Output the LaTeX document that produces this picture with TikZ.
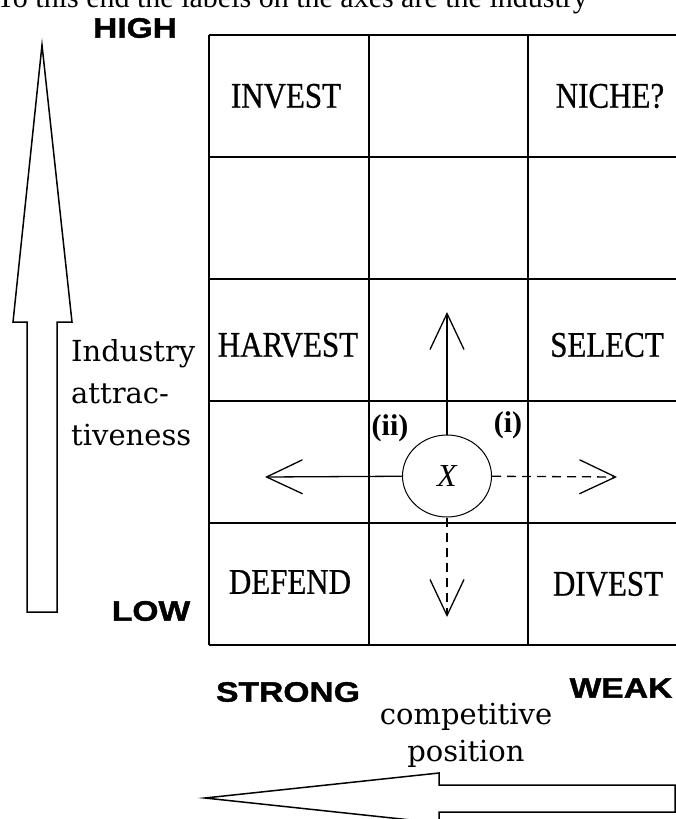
\documentclass[tikz,border=0pt]{standalone}
\usepackage{fontspec}
\usepackage{tikz}
\usetikzlibrary{arrows.meta, shapes.geometric}
\setmainfont{Liberation Serif}
\newfontfamily\cellfont[FakeStretch=0.86, FakeBold=0.6]{Liberation Serif}
\newfontfamily\axisfont[FakeStretch=1.2, FakeBold=1.5]{Liberation Sans}
\newfontfamily\captfont{DejaVu Serif}
\tikzstyle{gridline}=[line width=2pt]
\tikzstyle{cell}=[font=\cellfont\fontsize{36}{40}\selectfont]
\tikzstyle{axis}=[font=\axisfont\bfseries\fontsize{28}{32}\selectfont]
\tikzstyle{capt}=[font=\captfont\fontsize{29}{42}\selectfont, inner sep=0pt]
\tikzstyle{move}=[-{Straight Barb[length=36pt,width=34pt]}, line width=1.3pt]
\tikzstyle{maybe}=[dash pattern=on 9pt off 6pt]
\tikzstyle{bigarrow}=[line width=1.5pt, line join=miter]

\begin{document}
\begin{tikzpicture}[x=1pt, y=-1pt]
  \useasboundingbox (0,0) rectangle (676,819);
  \node[anchor=base east, inner sep=0pt, font=\fontsize{30}{34}\selectfont] (toptext) at (588,8) {To this end the labels on the axes are the industry};

  % 3 x 5 grid
  \foreach \gx in {209,368.5,528,687}
    \draw[gridline] (\gx,35) -- (\gx,645);
  \foreach \gy in {35,157,279,401,523,645}
    \draw[gridline] (209,\gy) -- (687,\gy);

  \node[cell] (invest) at (286,96) {INVEST};
  \node[cell] (niche) at (610,96) {NICHE?};
  \node[cell] (harvest) at (288,345) {HARVEST};
  \node[cell] (select) at (607,345) {SELECT};
  \node[cell] (defend) at (290,582) {DEFEND};
  \node[cell] (divest) at (608,584) {DIVEST};

  % position X and its four moves
  \node[draw, ellipse, line width=1pt, minimum width=89pt, minimum height=82pt, inner sep=0pt,
        font=\itshape\fontsize{32}{34}\selectfont] (xpos) at (447,476) {X};
  \coordinate (upend) at (447,312);
  \coordinate (leftend) at (265,477);
  \coordinate (rightend) at (617,477);
  \coordinate (downend) at (447,617);
  \draw[move] (xpos) -- (upend);
  \draw[move] (xpos) -- (leftend);
  \draw[move, maybe] (xpos) -- (rightend);
  \draw[move, maybe] (xpos) -- (downend);
  \node[font=\bfseries\fontsize{30}{34}\selectfont] (optii) at (390,428) {(ii)};
  \node[font=\bfseries\fontsize{30}{34}\selectfont] (opti) at (508,425) {(i)};

  % axes
  \draw[bigarrow] (27,612) -- (27,322) -- (13,322) -- (42,45) -- (72,322) -- (57,322) -- (57,612) -- cycle;
  \draw[bigarrow] (205,798) -- (439,773) -- (439,785) -- (675,785) -- (675,812) -- (439,812) -- (439,823) -- cycle;
  \node[axis] (high) at (135,28) {HIGH};
  \node[axis] (low) at (151,611) {LOW};
  \node[axis] (strong) at (288,692) {STRONG};
  \node[axis] (weak) at (621,688) {WEAK};
  \node[capt, anchor=west, align=left] (indlab) at (71,393) {Industry\\attrac-\\tiveness};
  \node[capt, align=center, font=\captfont\fontsize{29}{37}\selectfont] (complab) at (466,735) {competitive\\position};
\end{tikzpicture}
\end{document}
